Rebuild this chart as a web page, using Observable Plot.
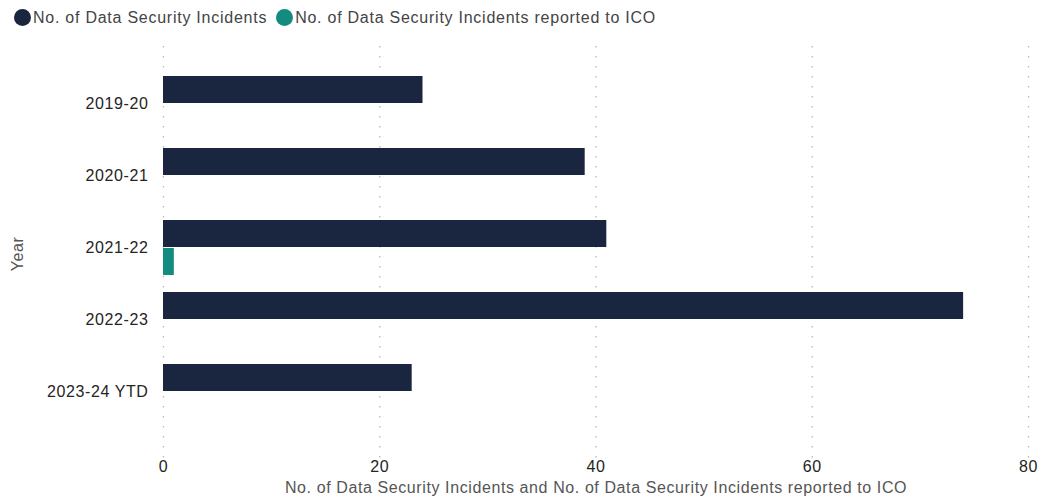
<!DOCTYPE html>
<html>
<head>
<meta charset="utf-8">
<script src="https://cdn.jsdelivr.net/npm/d3@7"></script>
<script src="https://cdn.jsdelivr.net/npm/@observablehq/plot@0.6"></script>
<style>
  html, body { margin: 0; padding: 0; background: #fff; }
  body { width: 1062px; height: 499px; overflow: hidden; font-family: 'Liberation Sans', Arial, sans-serif; }
  #legend { height: 35px; display: flex; align-items: center; padding-left: 14px; box-sizing: border-box; font-size: 16px; letter-spacing: 0.75px; color: #444; }
  .item { display: flex; align-items: center; margin-right: 9px; }
  .dot { width: 17px; height: 17px; border-radius: 50%; margin-right: 2px; }
  svg { display: block; }
  svg text { font-family: 'Liberation Sans', Arial, sans-serif; }
</style>
</head>
<body>
<div id="legend"></div>
<div id="chart"></div>
<script>
const years = ["2019-20", "2020-21", "2021-22", "2022-23", "2023-24 YTD"];
const incidents = [24, 39, 41, 74, 23];
const reportedToICO = [0, 0, 1, 0, 0];
const seriesNames = ["No. of Data Security Incidents", "No. of Data Security Incidents reported to ICO"];
const seriesColors = ["#1a2640", "#138b7f"];
const xTicks = [0, 20, 40, 60, 80];

const legend = document.getElementById("legend");
seriesNames.forEach((name, i) => {
  const item = document.createElement("div");
  item.className = "item";
  const dot = document.createElement("span");
  dot.className = "dot";
  dot.style.background = seriesColors[i];
  const label = document.createElement("span");
  label.textContent = name;
  item.appendChild(dot);
  item.appendChild(label);
  legend.appendChild(item);
});

const rowsA = years.map((y, i) => ({year: y, value: incidents[i]}));
const rowsB = years.map((y, i) => ({year: y, value: reportedToICO[i]}));

const chart = Plot.plot({
  width: 1062,
  height: 464,
  marginLeft: 163,
  marginRight: 34,
  marginTop: 11,
  marginBottom: 38,
  style: {fontFamily: "'Liberation Sans', Arial, sans-serif", fontSize: "16px", letterSpacing: "0.6px", color: "#252423", background: "#fff"},
  x: {domain: [0, 80], ticks: xTicks},
  y: {domain: years, paddingInner: 0.23, paddingOuter: 0.115, insetTop: 19.6, insetBottom: 30.6},
  marks: [
    Plot.gridX(xTicks, {stroke: "#b8b8b8", strokeOpacity: 1, strokeDasharray: "1.5,8.5", strokeWidth: 1.3}),
    Plot.barX(rowsA, {x: "value", y: "year", fill: seriesColors[0], insetBottom: 28}),
    Plot.barX(rowsB, {x: "value", y: "year", fill: seriesColors[1], insetTop: 28}),
    Plot.axisX(xTicks, {tickSize: 0, tickPadding: -1, fill: "#252423", label: "No. of Data Security Incidents and No. of Data Security Incidents reported to ICO", labelAnchor: "center", labelArrow: "none", labelOffset: 31}),
    Plot.axisY({tickSize: 0, tickPadding: 15, fill: "#252423", label: "Year", labelAnchor: "center", labelArrow: "none", labelOffset: 152})
  ]
});
document.getElementById("chart").appendChild(chart);
chart.querySelectorAll("g[aria-label='x-axis label'] text, g[aria-label='y-axis label'] text").forEach(t => t.setAttribute("fill", "#555"));
</script>
</body>
</html>
